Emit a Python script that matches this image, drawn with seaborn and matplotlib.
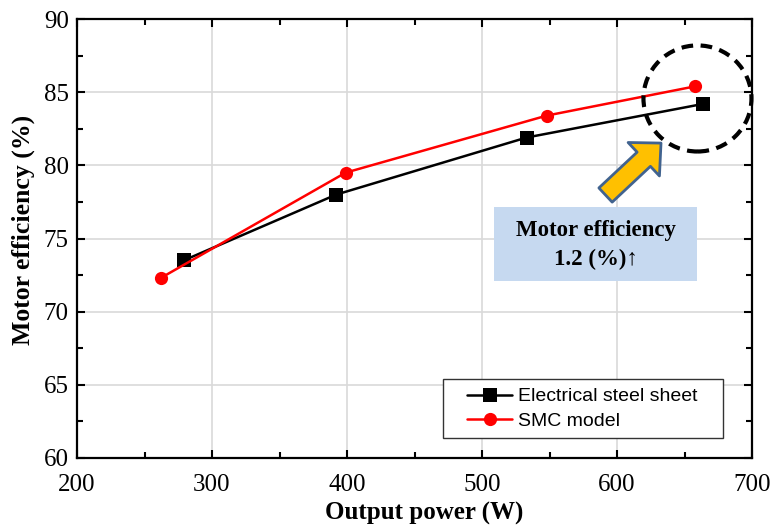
import matplotlib
matplotlib.use("Agg")
import matplotlib.pyplot as plt
from matplotlib.patches import Ellipse, Rectangle
from matplotlib.ticker import MultipleLocator
import seaborn as sns
import pandas as pd

# Measured operating points
power_steel = [279, 392, 533, 664]
eff_steel = [73.5, 78.0, 81.9, 84.2]
power_smc = [262, 399, 548, 658]
eff_smc = [72.3, 79.5, 83.4, 85.4]

label_steel = "Electrical steel sheet"
label_smc = "SMC model"

x_ticks = [200, 300, 400, 500, 600, 700]
y_ticks = [60, 65, 70, 75, 80, 85, 90]

df = pd.concat([
    pd.DataFrame({"power": power_steel, "eff": eff_steel, "model": label_steel}),
    pd.DataFrame({"power": power_smc, "eff": eff_smc, "model": label_smc}),
], ignore_index=True)

sns.set_theme(style="ticks")
plt.rcParams["font.family"] = ["Liberation Serif", "DejaVu Serif"]
plt.rcParams["text.color"] = "black"
plt.rcParams["axes.labelcolor"] = "black"
plt.rcParams["xtick.color"] = "black"
plt.rcParams["ytick.color"] = "black"

fig = plt.figure(figsize=(7.74, 5.28), dpi=100)
ax = fig.add_axes([77 / 774, 1 - 458 / 528, (752 - 77) / 774, (458 - 19) / 528])

sns.lineplot(
    data=df, x="power", y="eff", hue="model", style="model",
    palette={label_steel: "black", label_smc: "#ff0000"},
    markers={label_steel: "s", label_smc: "o"},
    dashes=False, sort=False, linewidth=1.8, markersize=9.5,
    markeredgewidth=0, ax=ax, zorder=5,
)

ax.set_xlim(x_ticks[0], x_ticks[-1])
ax.set_ylim(y_ticks[0], y_ticks[-1])
ax.set_xticks(x_ticks)
ax.set_yticks(y_ticks)
ax.xaxis.set_minor_locator(MultipleLocator(50))
ax.yaxis.set_minor_locator(MultipleLocator(2.5))
ax.grid(True, which="major", color="#d9d9d9", linewidth=1.2, zorder=0)
ax.set_axisbelow(True)

ax.tick_params(which="both", direction="in", top=True, right=True,
               width=1.5, colors="black", labelcolor="black", labelsize=18, pad=6)
ax.tick_params(axis="x", which="both", pad=11.5)
ax.tick_params(which="major", length=6)
ax.tick_params(which="minor", length=4)
for s in ax.spines.values():
    s.set_linewidth(1.6)
    s.set_color("black")

ax.set_xlabel("Output power (W)", fontsize=18, fontweight="bold", labelpad=4,
              color="black")
ax.set_ylabel("Motor efficiency (%)", fontsize=18.5, fontweight="bold", labelpad=6,
              color="black")
ax.xaxis.label.set_x(0.515)
ax.yaxis.label.set_y(0.519)

# Legend: plain rectangular frame, entries inset from its left edge
ax.add_patch(Rectangle((0.5422, 0.0456), 0.957 - 0.5422, 0.180 - 0.0456,
                       transform=ax.transAxes, facecolor="white",
                       edgecolor="#333333", linewidth=1.0, zorder=8))
leg = ax.legend(
    loc="upper left", bbox_to_anchor=(0.578, 0.160), frameon=False,
    handlelength=2.3, handletextpad=0.3, labelspacing=0.35, borderpad=0,
    borderaxespad=0, title=None,
    prop={"family": ["Liberation Sans", "DejaVu Sans"], "size": 14},
)
leg.set_zorder(9)
for t in leg.get_texts():
    t.set_color("black")

# Highlight of the rated-power points
ax.add_patch(Ellipse((659.6, 84.57), width=80, height=7.25, fill=False,
                     edgecolor="black", linewidth=3, linestyle=(0, (2.8, 1.8)),
                     zorder=6, clip_on=False))

# Block arrow pointing at the highlight
ax.annotate(
    "", xy=(632.6, 81.52), xytext=(591.5, 77.97),
    arrowprops=dict(arrowstyle="simple,head_length=17,head_width=33,tail_width=14",
                    mutation_scale=1, facecolor="#ffc000", edgecolor="#41638f",
                    linewidth=2.0, shrinkA=0, shrinkB=0),
    zorder=7,
)

# Annotation box
ax.add_patch(Rectangle((508.9, 72.09), 659.3 - 508.9, 77.15 - 72.09,
                       facecolor="#c6d9f0", edgecolor="none", zorder=6))
ax.text(584.1, 74.55, "Motor efficiency\n1.2 (%)\u2191", ha="center", va="center",
        fontsize=16.5, fontweight="bold", linespacing=1.45, zorder=7, color="black",
        family=["Liberation Serif", "DejaVu Serif"])

fig.savefig("out.png", dpi=100)
